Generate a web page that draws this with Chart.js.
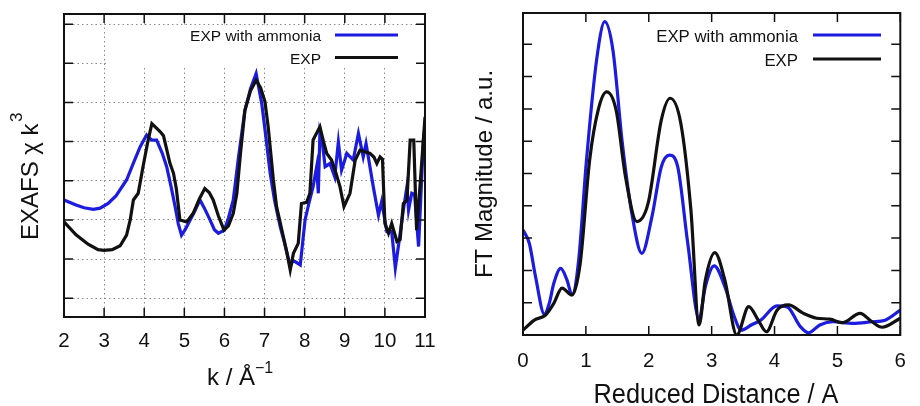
<!DOCTYPE html>
<html>
<head>
<meta charset="utf-8">
<script src="https://cdn.jsdelivr.net/npm/chart.js@4"></script>
<style>
  html, body { margin: 0; padding: 0; background: #fff; }
  #wrap { position: relative; width: 920px; height: 406px; }
  canvas { position: absolute; top: 0; }
</style>
</head>
<body>
<div id="wrap">
  <canvas id="exafs" width="460" height="406" style="left:0"></canvas>
  <canvas id="ft" width="460" height="406" style="left:460px"></canvas>
</div>
<script>
// left panel: EXAFS chi(k)*k^3
const kTicks = [2, 3, 4, 5, 6, 7, 8, 9, 10, 11];
const chiTicks = [-3, -2, -1, 0, 1, 2, 3, 4];

const expK = [2.0, 2.3, 2.6, 2.85, 3.0, 3.2, 3.4, 3.56, 3.65, 3.73, 3.85, 3.97, 4.08, 4.19, 4.3, 4.4, 4.48, 4.56, 4.64, 4.73, 4.8, 4.89,
  5.06, 5.22, 5.38, 5.51, 5.62, 5.72, 5.85, 5.99, 6.1, 6.22, 6.31, 6.4, 6.51, 6.65, 6.79, 6.9, 7.01, 7.09, 7.22, 7.3, 7.47, 7.56, 7.64,
  7.72, 7.84, 7.92, 8.05, 8.13, 8.21, 8.38, 8.47, 8.55, 8.67, 8.78, 8.88, 8.98, 9.13, 9.26, 9.38, 9.63, 9.73, 9.8, 9.88, 9.94,
  10.0, 10.09, 10.17, 10.3, 10.38, 10.46, 10.55, 10.63, 10.72, 10.79, 10.88, 11.0];
const expChi = [-1.05, -1.38, -1.62, -1.76, -1.78, -1.76, -1.66, -1.39, -1.0, -0.49, -0.32, 0.36, 0.95, 1.46, 1.35, 1.25, 1.15, 0.8, 0.45, 0.19, -0.2, -1.0,
  -1.05, -0.83, -0.45, -0.2, -0.3, -0.49, -0.9, -1.26, -1.15, -0.83, -0.32, 0.7, 1.8, 2.3, 2.57, 2.38, 2.02, 1.38, 0.02, -0.66, -1.43, -1.85, -2.28,
  -1.85, -1.6, -0.58, -0.55, -0.32, 1.04, 1.38, 1.0, 0.7, 0.53, 0.2, -0.15, -0.66, -0.32, 0.53, 0.78, 0.7, 0.6, 0.44, 0.61, 0.55,
  -1.09, -1.34, -1.09, -1.55, -1.5, -0.58, -0.5, 1.04, 1.04, -1.26, -0.07, 1.63];

const nh3K = [2.0, 2.3, 2.5, 2.73, 2.9, 3.1, 3.3, 3.56, 3.75, 3.9, 4.06, 4.12, 4.19, 4.31, 4.45, 4.56, 4.68, 4.77, 4.85, 4.93, 5.02, 5.1,
  5.25, 5.39, 5.5, 5.64, 5.75, 5.85, 6.0, 6.1, 6.22, 6.35, 6.51, 6.65, 6.79, 6.93, 7.0, 7.14, 7.25, 7.39, 7.5, 7.64, 7.7, 7.77, 7.89,
  8.01, 8.1, 8.21, 8.3, 8.34, 8.38, 8.45, 8.51, 8.63, 8.75, 8.84, 8.92, 9.0, 9.05, 9.21, 9.34, 9.46, 9.53, 9.62, 9.71, 9.84, 9.92,
  10.05, 10.17, 10.26, 10.36, 10.46, 10.55, 10.59, 10.67, 10.74, 10.84, 10.96, 11.0];
const nh3Chi = [-0.49, -0.62, -0.69, -0.73, -0.7, -0.58, -0.38, 0.02, 0.5, 0.87, 1.17, 1.1, 1.04, 1.04, 0.7, 0.36, -0.2, -0.66, -1.1, -1.39, -1.25, -1.09,
  -0.8, -0.49, -0.7, -1.0, -1.25, -1.34, -1.26, -0.95, -0.49, 0.6, 1.8, 2.35, 2.74, 1.97, 1.4, 0.19, -0.5, -1.17, -1.6, -2.19, -2.05, -2.07, -2.15,
  -1.0, -0.6, -0.15, 0.36, -0.32, 1.21, 0.9, 0.36, 0.44, 0.1, 0.99, 0.27, 0.53, 0.7, 0.53, 1.21, 0.61, 0.95, 0.4, -0.15, -0.88, -0.53,
  -1.3, -1.3, -2.23, -1.5, -0.75, -0.15, -0.75, -0.32, -0.35, -1.68, 1.04, 1.38];

// right panel: FT magnitude
const rTicks = [0, 1, 2, 3, 4, 5, 6];
const ftTicks = [0, 1, 2, 3, 4, 5, 6, 7, 8, 9];

const expR = [0.0, 0.18, 0.36, 0.49, 0.62, 0.78, 0.91, 1.06, 1.2, 1.33, 1.48, 1.63, 1.81, 1.99, 2.2, 2.34, 2.51, 2.67, 2.8,
  2.9, 3.05, 3.21, 3.4, 3.59, 3.74, 3.87, 4.04, 4.22, 4.46, 4.67, 4.88, 5.08, 5.36, 5.55, 5.71, 6.0];
const expFT = [0.15, 0.46, 0.62, 0.98, 1.45, 1.24, 2.22, 5.42, 7.0, 7.53, 6.97, 4.9, 3.51, 4.08, 6.66, 7.33, 6.55, 3.87, 0.31,
  1.7, 2.55, 1.7, 0.0, 0.88, 0.46, 0.1, 0.77, 0.93, 0.67, 0.52, 0.49, 0.38, 0.67, 0.41, 0.24, 0.52];

const nh3R = [0.0, 0.1, 0.2, 0.34, 0.42, 0.49, 0.6, 0.7, 0.78, 0.88, 1.01, 1.17, 1.3, 1.43, 1.58, 1.74, 1.89, 2.05, 2.2, 2.33,
  2.46, 2.62, 2.8, 2.9, 3.04, 3.21, 3.36, 3.47, 3.63, 3.78, 4.04, 4.2, 4.41, 4.54, 4.72, 4.93, 5.24, 5.55, 5.76, 6.0];
const nh3FT = [3.25, 2.84, 1.8, 0.65, 1.0, 1.6, 2.06, 1.7, 1.24, 2.22, 5.42, 8.51, 9.7, 8.82, 5.93, 3.66, 2.53, 3.66, 5.21, 5.57,
  5.21, 2.84, 0.5, 1.5, 2.14, 1.5, 0.57, 0.15, 0.31, 0.46, 0.9, 0.87, 0.26, 0.07, 0.31, 0.41, 0.36, 0.41, 0.46, 0.77];

const FONT = '"Liberation Sans", Arial, Helvetica, sans-serif';
const BLUE = '#1c1ce0';
const INK = '#111';

const pts = (xs, ys) => xs.map((x, i) => ({ x: x, y: ys[i] }));
const fixTicks = list => scale => { scale.ticks = list.map(v => ({ value: v })); };

// gnuplot-like frame: box, inward ticks on all sides, key and axis titles
const frame = {
  id: 'frame',
  beforeDatasetsDraw(chart, args, o) {
    if (!o.keyBox) return;
    const c = chart.ctx;
    c.save();
    c.fillStyle = '#fff';
    c.fillRect(o.keyBox[0], o.keyBox[1], o.keyBox[2], o.keyBox[3]);
    c.restore();
  },
  afterDraw(chart, args, o) {
    const c = chart.ctx;
    const a = chart.chartArea;
    const x = chart.scales.x, y = chart.scales.y;
    c.save();
    c.strokeStyle = INK;
    c.lineWidth = 1.5;
    c.beginPath();
    x.ticks.forEach(t => {
      const px = x.getPixelForValue(t.value);
      c.moveTo(px, a.bottom); c.lineTo(px, a.bottom - 9);
      c.moveTo(px, a.top); c.lineTo(px, a.top + 9);
    });
    y.ticks.forEach(t => {
      const py = y.getPixelForValue(t.value);
      c.moveTo(a.left, py); c.lineTo(a.left + 9, py);
      c.moveTo(a.right, py); c.lineTo(a.right - 9, py);
    });
    c.stroke();
    c.lineWidth = 2;
    c.strokeRect(a.left, a.top, a.right - a.left, a.bottom - a.top);

    // key: text right-aligned, sample line to its right
    const k = o.key;
    c.font = k.size + 'px ' + FONT;
    c.textAlign = 'right';
    c.textBaseline = 'middle';
    chart.data.datasets.forEach((ds, i) => {
      const ly = k.y + i * k.dy;
      c.fillStyle = INK;
      c.fillText(ds.label, k.textX, ly + 2);
      c.strokeStyle = ds.borderColor;
      c.lineWidth = 3.2;
      c.beginPath();
      c.moveTo(k.x1, ly); c.lineTo(k.x2, ly);
      c.stroke();
    });

    // axis titles
    c.fillStyle = INK;
    c.textBaseline = 'alphabetic';
    o.titles.forEach(t => {
      c.save();
      c.translate(t.x, t.y);
      if (t.rot) c.rotate(t.rot * Math.PI / 180);
      c.font = t.size + 'px ' + FONT;
      c.textAlign = t.align || 'left';
      if (t.maxWidth) c.fillText(t.text, 0, 0, t.maxWidth);
      else c.fillText(t.text, 0, 0);
      c.restore();
    });
    c.restore();
  }
};

const tickFont = { family: FONT, size: 20.5 };

new Chart(document.getElementById('exafs'), {
  type: 'line',
  data: {
    datasets: [
      { label: 'EXP with ammonia', data: pts(nh3K, nh3Chi), borderColor: BLUE, borderWidth: 3.2, pointRadius: 0, tension: 0, order: 1 },
      { label: 'EXP', data: pts(expK, expChi), borderColor: INK, borderWidth: 3.2, pointRadius: 0, tension: 0, order: 0 }
    ]
  },
  options: {
    responsive: false,
    animation: false,
    events: [],
    layout: { padding: { top: 14, right: 35, left: 0, bottom: 0 } },
    plugins: {
      legend: { display: false },
      tooltip: { enabled: false },
      frame: {
        keyBox: [107, 26, 318, 42],
        key: { size: 15.5, textX: 321, x1: 335, x2: 398, y: 35, dy: 22.5 },
        titles: [
          { text: 'k / Å', x: 207, y: 385, size: 24 },
          { text: '−1', x: 255, y: 373, size: 16 },
          { text: 'EXAFS χ k', x: 38, y: 240, rot: -90, size: 24, maxWidth: 118 },
          { text: '3', x: 22, y: 122, rot: -90, size: 17 }
        ]
      }
    },
    scales: {
      x: {
        type: 'linear', min: 2, max: 11,
        afterBuildTicks: fixTicks(kTicks),
        afterFit: s => { s.height = 89; },
        ticks: { color: INK, font: tickFont, padding: 12, maxRotation: 0, autoSkip: false },
        grid: { color: '#8c8c8c', lineWidth: 1, drawTicks: false },
        border: { display: false, dash: [1.5, 3] }
      },
      y: {
        type: 'linear', min: -3.48, max: 4.26,
        afterBuildTicks: fixTicks(chiTicks),
        afterFit: s => { s.width = 64; },
        ticks: { display: false },
        grid: { color: '#8c8c8c', lineWidth: 1, drawTicks: false },
        border: { display: false, dash: [1.5, 3] }
      }
    }
  },
  plugins: [frame]
});

new Chart(document.getElementById('ft'), {
  type: 'line',
  data: {
    datasets: [
      { label: 'EXP with ammonia', data: pts(nh3R, nh3FT), borderColor: BLUE, borderWidth: 3.2, pointRadius: 0, cubicInterpolationMode: 'monotone', order: 1 },
      { label: 'EXP', data: pts(expR, expFT), borderColor: INK, borderWidth: 3.2, pointRadius: 0, cubicInterpolationMode: 'monotone', order: 0 }
    ]
  },
  options: {
    responsive: false,
    animation: false,
    events: [],
    layout: { padding: { top: 13, right: 11, left: 0, bottom: 0 } },
    plugins: {
      legend: { display: false },
      tooltip: { enabled: false },
      frame: {
        key: { size: 16.8, textX: 338, x1: 353, x2: 421, y: 35, dy: 24 },
        titles: [
          { text: 'FT Magnitude / a.u.', x: 32, y: 174, rot: -90, size: 24, align: 'center', maxWidth: 218 },
          { text: 'Reduced Distance / A', x: 256, y: 403, size: 27, align: 'center', maxWidth: 245 }
        ]
      }
    },
    scales: {
      x: {
        type: 'linear', min: 0, max: 6,
        afterBuildTicks: fixTicks(rTicks),
        afterFit: s => { s.height = 71; },
        ticks: { color: INK, font: tickFont, padding: 14, maxRotation: 0, autoSkip: false },
        grid: { display: false, drawTicks: false },
        border: { display: false }
      },
      y: {
        type: 'linear', min: 0, max: 9.97,
        afterBuildTicks: fixTicks(ftTicks),
        afterFit: s => { s.width = 63; },
        ticks: { display: false },
        grid: { display: false, drawTicks: false },
        border: { display: false }
      }
    }
  },
  plugins: [frame]
});
</script>
</body>
</html>
